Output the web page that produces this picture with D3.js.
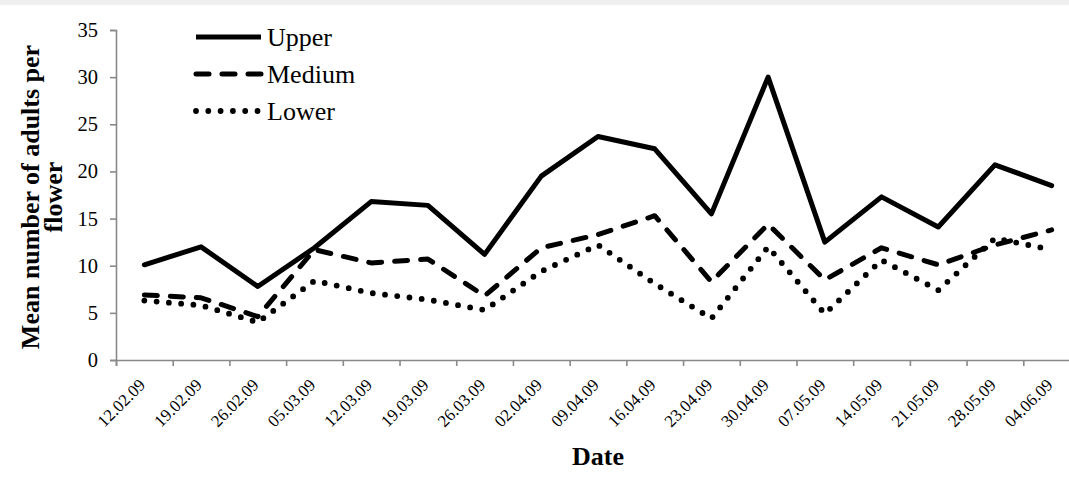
<!DOCTYPE html>
<html>
<head>
<meta charset="utf-8">
<script src="https://cdn.jsdelivr.net/npm/d3@7"></script>
<style>
  body { margin: 0; background: #fff; }
  svg { display: block; }
  text { font-family: "Liberation Serif", "Times New Roman", serif; fill: #000; }
  .axis path, .axis line { stroke: #898989; stroke-width: 1.6px; }
</style>
</head>
<body>
<svg id="chart"></svg>
<script>
// sampling dates (category axis)
const dates = ["12.02.09", "19.02.09", "26.02.09", "05.03.09", "12.03.09", "19.03.09",
  "26.03.09", "02.04.09", "09.04.09", "16.04.09", "23.04.09", "30.04.09", "07.05.09",
  "14.05.09", "21.05.09", "28.05.09", "04.06.09"];

// mean number of adults per flower, by flower position
const upper  = [10.1, 12.0, 7.8, 11.9, 16.8, 16.4, 11.2, 19.5, 23.7, 22.4, 15.5, 30.0, 12.5, 17.3, 14.1, 20.7, 18.5];
const medium = [6.9, 6.6, 4.6, 11.7, 10.3, 10.7, 6.8, 11.9, 13.3, 15.3, 8.3, 14.4, 8.5, 11.9, 10.1, 12.2, 13.8];
const lower  = [6.3, 5.8, 4.0, 8.4, 7.1, 6.4, 5.3, 9.4, 12.2, 8.1, 4.4, 12.0, 4.9, 10.6, 7.4, 12.9, 11.7];

const yTicks = [0, 5, 10, 15, 20, 25, 30, 35];

const series = [
  {name: "Upper", values: upper, dash: null, w: 5},
  {name: "Medium", values: medium, dash: "13,13", w: 5},
  {name: "Lower", values: lower, dash: "0,12.3", w: 5.8}
];

const serif = "'Liberation Serif', 'Times New Roman', serif";
const width = 1069, height = 479;
const margin = {top: 30, left: 116, bottom: 119};
const plotRight = 1080; // the original chart is cut off on the right

const svg = d3.select("#chart")
  .attr("width", width)
  .attr("height", height);

// thin grey strip along the top edge
svg.append("rect")
  .attr("x", 0).attr("y", 0)
  .attr("width", width).attr("height", 5)
  .attr("fill", "#efefef");

const xScale = d3.scaleBand()
  .domain(dates)
  .range([margin.left, plotRight]);

// boundary positions for the Excel-style ticks between categories
const xEdge = d3.scaleLinear()
  .domain([0, dates.length])
  .range([margin.left, plotRight]);

const yScale = d3.scaleLinear()
  .domain([0, 35])
  .range([height - margin.bottom, margin.top]);

// y axis
const yAxisG = svg.append("g")
  .attr("class", "axis y-axis")
  .attr("transform", `translate(${margin.left},0)`)
  .call(d3.axisLeft(yScale).tickValues(yTicks).tickSizeOuter(0).tickSize(6).tickPadding(12));
yAxisG.attr("font-family", serif).attr("font-size", 20.5);

// x axis: line + boundary ticks
svg.append("g")
  .attr("class", "axis x-axis")
  .attr("transform", `translate(0,${yScale(0)})`)
  .call(d3.axisBottom(xEdge).tickValues(d3.range(0, dates.length + 1)).tickFormat("").tickSizeOuter(0).tickSize(6));

// x labels, rotated
svg.append("g")
  .selectAll("text")
  .data(dates)
  .join("text")
  .attr("transform", d => `translate(${xScale(d) + xScale.bandwidth() / 2 + 2},${yScale(0) + 26}) rotate(-45)`)
  .attr("text-anchor", "end")
  .attr("font-family", serif)
  .attr("font-size", 17)
  .text(d => d);

// lines
const line = d3.line()
  .x((d, i) => xScale(dates[i]) + xScale.bandwidth() / 2)
  .y(d => yScale(d));

svg.append("g")
  .selectAll("path")
  .data(series)
  .join("path")
  .attr("d", d => line(d.values))
  .attr("fill", "none")
  .attr("stroke", "#000")
  .attr("stroke-width", d => d.w)
  .attr("stroke-linejoin", "round")
  .attr("stroke-linecap", "round")
  .attr("stroke-dasharray", d => d.dash);

// legend
const legend = svg.append("g")
  .selectAll("g")
  .data(series)
  .join("g")
  .attr("transform", (d, i) => `translate(0,${37 + i * 37})`);

legend.append("line")
  .attr("x1", 196).attr("x2", 261)
  .attr("y1", 0).attr("y2", 0)
  .attr("stroke", "#000")
  .attr("stroke-width", d => d.w)
  .attr("stroke-linecap", d => d.dash ? "round" : "butt")
  .attr("stroke-dasharray", d => d.dash);

legend.append("text")
  .attr("x", 267)
  .attr("y", 8.5)
  .attr("font-family", serif)
  .attr("font-size", 26)
  .text(d => d.name);

// axis titles
const yTitle = svg.append("text")
  .attr("transform", "translate(39,197) rotate(-90)")
  .attr("text-anchor", "middle")
  .attr("font-family", serif)
  .attr("font-size", 26)
  .attr("font-weight", "bold");
yTitle.append("tspan").attr("x", 0).attr("y", 0).text("Mean number of adults per");
yTitle.append("tspan").attr("x", 0).attr("y", 23).text("flower");

svg.append("text")
  .attr("x", (margin.left + plotRight) / 2)
  .attr("y", 465)
  .attr("text-anchor", "middle")
  .attr("font-family", serif)
  .attr("font-size", 26)
  .attr("font-weight", "bold")
  .text("Date");
</script>
</body>
</html>
